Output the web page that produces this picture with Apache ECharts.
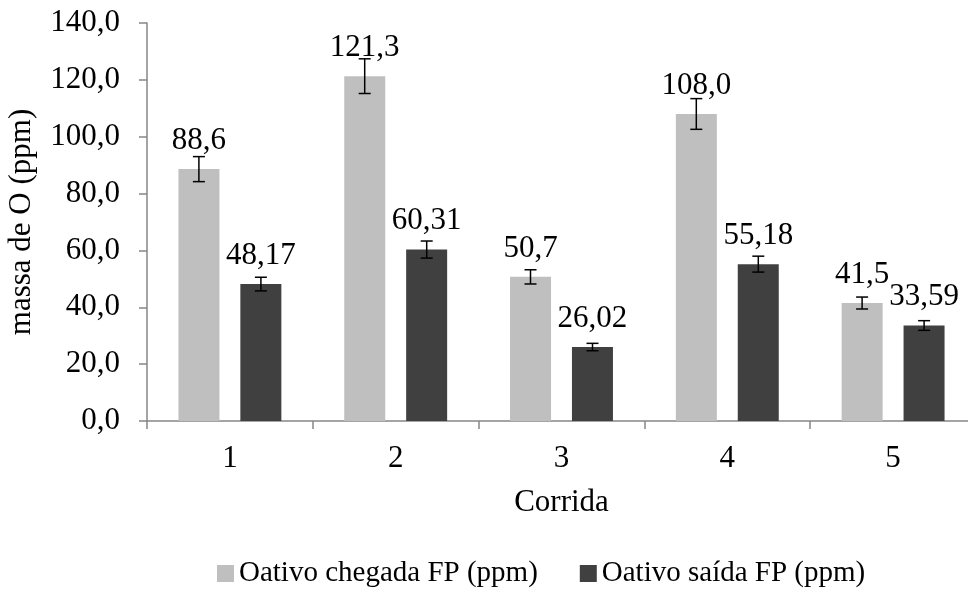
<!DOCTYPE html>
<html>
<head>
<meta charset="utf-8">
<script src="https://cdn.jsdelivr.net/npm/echarts@6/dist/echarts.min.js"></script>
<style>
  html, body { margin: 0; padding: 0; background: #fff; }
  #chart { width: 968px; height: 596px; }
</style>
</head>
<body>
<div id="chart"></div>
<script>
  var categories = ['1', '2', '3', '4', '5'];
  var chegada = [88.6, 121.3, 50.7, 108.0, 41.5];
  var saida = [48.17, 60.31, 26.02, 55.18, 33.59];
  var chegadaErr = [4.4, 6.1, 2.5, 5.4, 2.1];
  var saidaErr = [2.4, 3.0, 1.3, 2.8, 1.7];
  var yTicks = [0, 20, 40, 60, 80, 100, 120, 140];

  var fontFamily = "'Liberation Serif', 'Times New Roman', serif";
  var fontSize = 31;

  function virgula(v, d) {
    return v.toFixed(d).replace('.', ',');
  }

  function errData(vals, errs) {
    return vals.map(function (v, i) { return [i, v, errs[i]]; });
  }

  function errRender(offset) {
    return function (params, api) {
      var i = api.value(0), v = api.value(1), e = api.value(2);
      var hi = api.coord([i, v + e]);
      var lo = api.coord([i, v - e]);
      var x = hi[0] + offset;
      var style = { stroke: '#000', lineWidth: 1.5 };
      return {
        type: 'group',
        children: [
          { type: 'line', shape: { x1: x, y1: hi[1], x2: x, y2: lo[1] }, style: style },
          { type: 'line', shape: { x1: x - 6, y1: hi[1], x2: x + 6, y2: hi[1] }, style: style },
          { type: 'line', shape: { x1: x - 6, y1: lo[1], x2: x + 6, y2: lo[1] }, style: style }
        ]
      };
    };
  }

  var chartDom = document.getElementById('chart');
  var myChart = echarts.init(chartDom);
  var option;

  option = {
    animation: false,
    textStyle: { fontFamily: fontFamily, color: '#000' },
    grid: { left: 147, top: 23, width: 829, height: 398, outerBoundsMode: 'none' },
    legend: {
      bottom: 3,
      left: 212,
      itemWidth: 17,
      itemHeight: 17,
      itemGap: 42,
      icon: 'rect',
      textStyle: { fontFamily: fontFamily, fontSize: 29, color: '#000' },
      data: ['Oativo chegada FP (ppm)', 'Oativo saída FP (ppm)']
    },
    xAxis: {
      type: 'category',
      data: categories,
      name: 'Corrida',
      nameLocation: 'middle',
      nameGap: 66,
      nameTextStyle: { fontFamily: fontFamily, fontSize: fontSize, color: '#000' },
      axisLine: { lineStyle: { color: '#868686', width: 1.5 } },
      axisTick: { show: true, length: 8, lineStyle: { color: '#868686', width: 1.5 } },
      axisLabel: { fontFamily: fontFamily, fontSize: fontSize, color: '#000', margin: 22 }
    },
    yAxis: {
      type: 'value',
      min: yTicks[0],
      max: yTicks[yTicks.length - 1],
      interval: 20,
      name: 'massa de O (ppm)',
      nameLocation: 'middle',
      nameRotate: 90,
      nameGap: 110,
      nameTextStyle: { fontFamily: fontFamily, fontSize: fontSize, color: '#000' },
      splitLine: { show: false },
      axisLine: { show: true, lineStyle: { color: '#868686', width: 1.5 } },
      axisTick: { show: true, length: 8, lineStyle: { color: '#868686', width: 1.5 } },
      axisLabel: {
        fontFamily: fontFamily, fontSize: fontSize, color: '#000', margin: 27,
        formatter: function (v) { return virgula(v, 1); }
      }
    },
    series: [
      {
        name: 'Oativo chegada FP (ppm)',
        type: 'bar',
        data: chegada,
        barWidth: 41,
        barGap: '51%',
        itemStyle: { color: '#bfbfbf' },
        label: {
          show: true, position: 'top', distance: 13,
          fontFamily: fontFamily, fontSize: fontSize, color: '#000',
          formatter: function (p) { return virgula(p.value, 1); }
        }
      },
      {
        name: 'Oativo saída FP (ppm)',
        type: 'bar',
        data: saida,
        barWidth: 41,
        barGap: '51%',
        itemStyle: { color: '#404040' },
        label: {
          show: true, position: 'top', distance: 13,
          fontFamily: fontFamily, fontSize: fontSize, color: '#000',
          formatter: function (p) { return virgula(p.value, 2); }
        }
      },
      {
        type: 'custom',
        renderItem: errRender(-31),
        encode: { x: 0, y: 1 },
        data: errData(chegada, chegadaErr),
        z: 10
      },
      {
        type: 'custom',
        renderItem: errRender(31),
        encode: { x: 0, y: 1 },
        data: errData(saida, saidaErr),
        z: 10
      }
    ]
  };
  option && myChart.setOption(option);
</script>
</body>
</html>
